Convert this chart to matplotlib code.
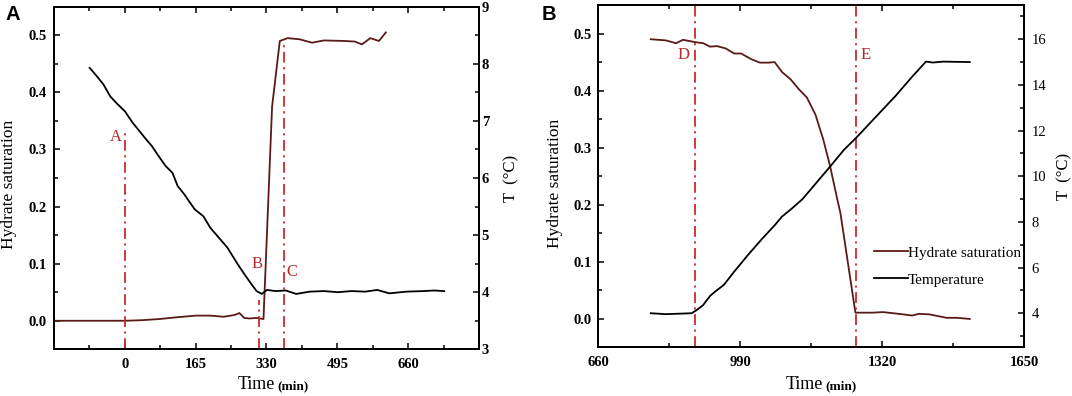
import matplotlib
matplotlib.use('Agg')
import matplotlib.pyplot as plt
from matplotlib.ticker import MultipleLocator

plt.rcParams['font.family'] = ['Liberation Serif', 'DejaVu Serif']

# ---- panel A data (time in min) ----
tA_sat = [-165, 0, 40, 80, 120, 165, 200, 230, 255, 267, 278, 290, 307, 323,
          343, 361, 379, 407, 436, 464, 512, 536, 552, 572, 592, 608]
satA = [0.0, 0.0, 0.001, 0.003, 0.006, 0.009, 0.009, 0.007, 0.010, 0.0135, 0.005, 0.004, 0.005, 0.003,
        0.375, 0.490, 0.495, 0.493, 0.487, 0.491, 0.490, 0.489, 0.484, 0.495, 0.490, 0.505]
tA_temp = [-82, -66, -50, -34, -18, 0, 18, 31, 47, 63, 79, 95, 111, 123, 139, 147, 163, 183,
           199, 223, 239, 263, 279, 295, 307, 319, 331, 351, 375, 399, 431, 464, 496, 528,
           560, 588, 616, 656, 696, 720, 744]
tempA = [7.93, 7.79, 7.64, 7.43, 7.30, 7.17, 6.97, 6.85, 6.70, 6.56, 6.38, 6.21, 6.09, 5.86, 5.71,
         5.62, 5.45, 5.33, 5.13, 4.92, 4.78, 4.49, 4.31, 4.14, 4.02, 3.97, 4.04, 4.02, 4.03,
         3.97, 4.01, 4.02, 4.00, 4.02, 4.01, 4.04, 3.98, 4.01, 4.02, 4.03, 4.02]
markA = [0, 313, 371]
markA_top = [0.33, 0.037, 0.488]
labA = ['A', 'B', 'C']
labA_x = [-22, 307, 390]
labA_y = [0.322, 0.099, 0.086]

# ---- panel B data ----
tB_sat = [782, 817, 841, 857, 885, 904, 920, 936, 956, 976, 992, 1016, 1036, 1056, 1070,
          1088, 1107, 1127, 1145, 1165, 1183, 1199, 1216, 1223, 1258, 1262, 1298, 1322,
          1358, 1390, 1406, 1430, 1470, 1494, 1524]
satB = [0.490, 0.488, 0.483, 0.489, 0.485, 0.483, 0.477, 0.478, 0.474, 0.465, 0.465, 0.455,
        0.449, 0.449, 0.450, 0.432, 0.420, 0.402, 0.388, 0.358, 0.315, 0.268, 0.209, 0.186,
        0.011, 0.011, 0.011, 0.012, 0.009, 0.006, 0.009, 0.008, 0.002, 0.002, 0.0]
tB_temp = [782, 817, 877, 889, 904, 920, 932, 952, 976, 1008, 1040, 1071, 1087, 1111, 1135,
           1199, 1231, 1259, 1310, 1350, 1390, 1422, 1438, 1462, 1524]
tempB = [4.0, 3.96, 4.0, 4.14, 4.36, 4.76, 4.95, 5.24, 5.82, 6.55, 7.24, 7.87, 8.23, 8.6, 9.0,
         10.42, 11.15, 11.67, 12.69, 13.49, 14.36, 15.02, 14.98, 15.02, 15.0]
markB = [885, 1260]
labB = ['D', 'E']
labB_x = [858, 1282]
labB_y = [0.463, 0.463]

sat_col = '#5a1a18'
red = '#cc2b2b'
dashdot = (0, (6, 2.5, 1.2, 2.5))

fig = plt.figure(figsize=(10.72, 3.96), dpi=100)
axA = fig.add_axes([0.0504, 0.1179, 0.3964, 0.8651])
axB = fig.add_axes([0.5581, 0.1225, 0.3971, 0.8649])
axA2 = axA.twinx()
axB2 = axB.twinx()


def style(ax, ax2, right_bold, rpad, rsize):
    for a in (ax, ax2):
        for s in a.spines.values():
            s.set_linewidth(1.4)
    ax.tick_params(which='both', direction='in', top=True, width=1.1)
    ax.tick_params(which='major', length=4.5)
    ax.tick_params(which='minor', length=2.8)
    ax.tick_params(axis='x', pad=6, labelsize=10.5)
    ax.tick_params(axis='y', pad=5, labelsize=10.5)
    for lab in ax.get_xticklabels() + ax.get_yticklabels():
        lab.set_fontweight('bold')
    ax2.tick_params(which='both', direction='in', width=1.1, pad=rpad, labelsize=rsize)
    ax2.tick_params(which='major', length=4.5)
    ax2.tick_params(which='minor', length=2.8)
    if right_bold:
        for lab in ax2.get_yticklabels():
            lab.set_fontweight('bold')


# ---------- A ----------
lA, = axA.plot(tA_sat, satA, color=sat_col, lw=1.3, zorder=3)
axA2.plot(tA_temp, tempA, color='black', lw=1.3)
for xm, yt in zip(markA, markA_top):
    axA.plot([xm, xm], [-0.05, yt], color=red, lw=1.3, ls=dashdot, zorder=4)
for s, xl, yl in zip(labA, labA_x, labA_y):
    axA.text(xl, yl, s, color='#b52a2a', fontsize=12, ha='center', va='center')
axA.set_xlim(-165, 825)
axA.set_ylim(-0.05, 0.55)
axA2.set_ylim(3, 9)
axA.set_xticks([0, 165, 330, 495, 660])
axA.xaxis.set_minor_locator(MultipleLocator(82.5))
axA.set_yticks([0.0, 0.1, 0.2, 0.3, 0.4, 0.5])
axA.set_yticklabels(['0.0', '0.1', '0.2', '0.3', '0.4', '0.5'])
axA.yaxis.set_minor_locator(MultipleLocator(0.05))
axA2.yaxis.set_major_locator(MultipleLocator(1))
axA2.yaxis.set_minor_locator(MultipleLocator(0.5))
style(axA, axA2, True, 2, 10.5)
axA.set_ylabel('Hydrate saturation', fontsize=12.5)
axA.yaxis.set_label_coords(-0.087, 0.48)
axA2.set_ylabel('T  (°C)', fontsize=12)
axA2.yaxis.set_label_coords(1.058, 0.5)
axA.text(0.52, -0.116, 'Time', transform=axA.transAxes, ha='right', va='baseline', fontsize=13)
axA.text(0.525, -0.116, '(min)', transform=axA.transAxes, ha='left', va='baseline',
         fontsize=9.5, fontweight='bold')
fig.text(12.5 / 1072, 1 - 15 / 396, 'A', fontsize=14.5, fontweight='bold',
         family='Liberation Sans', ha='center', va='center')

# ---------- B ----------
lB, = axB.plot(tB_sat, satB, color=sat_col, lw=1.3, zorder=3)
lT, = axB2.plot(tB_temp, tempB, color='black', lw=1.3)
for xm in markB:
    axB.plot([xm, xm], [-0.05, 0.55], color=red, lw=1.3, ls=dashdot, zorder=4)
for s, xl, yl in zip(labB, labB_x, labB_y):
    axB.text(xl, yl, s, color='#b52a2a', fontsize=12, ha='center', va='center')
axB.set_xlim(660, 1650)
axB.set_ylim(-0.05, 0.55)
axB2.set_ylim(2.5, 17.5)
axB.set_xticks([660, 990, 1320, 1650])
axB.xaxis.set_minor_locator(MultipleLocator(165))
axB.set_yticks([0.0, 0.1, 0.2, 0.3, 0.4, 0.5])
axB.set_yticklabels(['0.0', '0.1', '0.2', '0.3', '0.4', '0.5'])
axB.yaxis.set_minor_locator(MultipleLocator(0.05))
axB2.set_yticks([4, 6, 8, 10, 12, 14, 16])
axB2.yaxis.set_minor_locator(MultipleLocator(1))
style(axB, axB2, False, 5.5, 10.5)
axB.set_ylabel('Hydrate saturation', fontsize=12.5)
axB.yaxis.set_label_coords(-0.082, 0.48)
axB2.set_ylabel('T  (°C)', fontsize=12)
axB2.yaxis.set_label_coords(1.076, 0.5)
axB.text(0.528, -0.121, 'Time', transform=axB.transAxes, ha='right', va='baseline', fontsize=13)
axB.text(0.533, -0.121, '(min)', transform=axB.transAxes, ha='left', va='baseline',
         fontsize=9.5, fontweight='bold')
axB.legend([lB, lT], ['Hydrate saturation', 'Temperature'], loc='center left',
           bbox_to_anchor=(0.648, 0.237), frameon=False, fontsize=11,
           handlelength=2.2, handletextpad=0.0, borderpad=0, borderaxespad=0,
           labelspacing=0.85)
fig.text(549 / 1072, 1 - 15 / 396, 'B', fontsize=14.5, fontweight='bold',
         family='Liberation Sans', ha='center', va='center')

fig.savefig('out.png', dpi=100)
